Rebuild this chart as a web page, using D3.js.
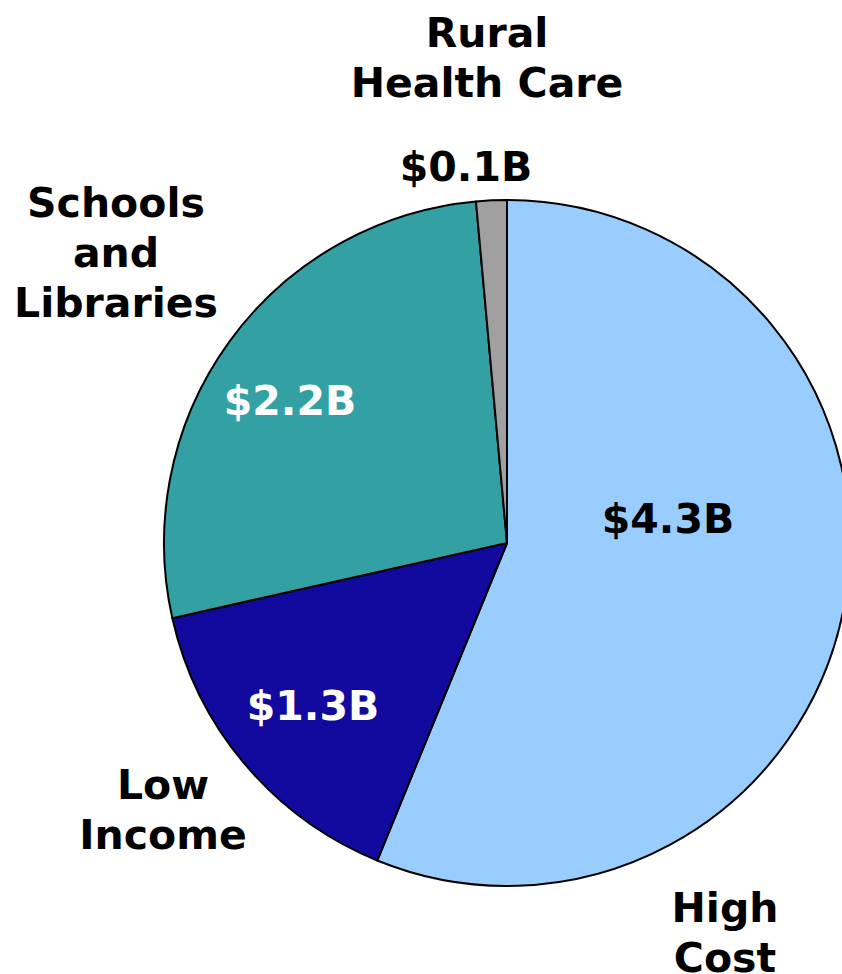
<!DOCTYPE html>
<html>
<head>
<meta charset="utf-8">
<script src="https://cdn.jsdelivr.net/npm/d3@7"></script>
<style>
  body { margin: 0; background: #fff; }
  svg text { font-family: 'DejaVu Sans', Verdana, sans-serif; font-weight: bold; font-size: 41px; }
</style>
</head>
<body>
<svg class="pie" width="842" height="974"></svg>
<script>
// programs, in drawing order (clockwise from 12 o'clock)
var programs = ['High Cost', 'Low Income', 'Schools and Libraries', 'Rural Health Care']
// slice sizes in billions
var funding = [4.44, 1.21, 2.14, 0.114]
// amounts as printed on the chart
var amountLabels = ['$4.3B', '$1.3B', '$2.2B', '$0.1B']
var colors = ['#99ccff', '#120a9e', '#33a1a4', '#a0a0a0']

var svg = d3.select('.pie')
var cx = 507,
  cy = 543,
  radius = 343

var g = svg.append('g').attr('transform', 'translate(' + cx + ',' + cy + ')')

var pie = d3
  .pie()
  .sort(null)
  .value(function(d) {
    return d.value
  })

var pieData = programs.map(function(p, i) {
  return { name: p, value: funding[i], amount: amountLabels[i], color: colors[i] }
})

var arc = d3.arc().innerRadius(0).outerRadius(radius)

g.selectAll('path')
  .data(pie(pieData))
  .enter()
  .append('path')
  .attr('d', arc)
  .attr('fill', function(d) {
    return d.data.color
  })
  .attr('stroke', '#000')
  .attr('stroke-width', 2)
  .attr('stroke-linejoin', 'round')

// label placement, offsets from the pie centre
var labelPlaces = {
  'High Cost': { name: [218, 379], amount: [161, -10], nameColor: '#000', amountColor: '#000' },
  'Low Income': { name: [-344, 256], amount: [-194, 177], nameColor: '#000', amountColor: '#fff' },
  'Schools and Libraries': { name: [-391, -326], amount: [-217, -128], nameColor: '#000', amountColor: '#fff' },
  'Rural Health Care': { name: [-20, -496], amount: [-41, -362], nameColor: '#000', amountColor: '#000' }
}
var nameLines = {
  'High Cost': ['High', 'Cost'],
  'Low Income': ['Low', 'Income'],
  'Schools and Libraries': ['Schools', 'and', 'Libraries'],
  'Rural Health Care': ['Rural', 'Health Care']
}

pieData.forEach(function(d) {
  var place = labelPlaces[d.name]
  var t = g
    .append('text')
    .attr('text-anchor', 'middle')
    .attr('fill', place.nameColor)
    .attr('x', place.name[0])
    .attr('y', place.name[1])
  nameLines[d.name].forEach(function(line, i) {
    t.append('tspan')
      .attr('x', place.name[0])
      .attr('dy', i == 0 ? 0 : 50)
      .text(line)
  })
  g.append('text')
    .attr('text-anchor', 'middle')
    .attr('fill', place.amountColor)
    .attr('x', place.amount[0])
    .attr('y', place.amount[1])
    .text(d.amount)
})
</script>
</body>
</html>
